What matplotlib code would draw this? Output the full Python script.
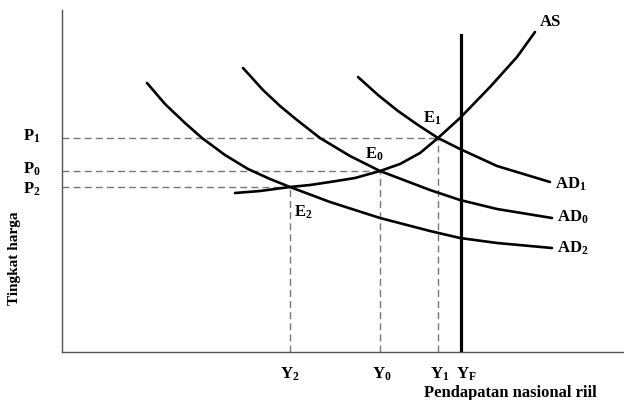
import matplotlib.pyplot as plt

plt.rcParams['font.family'] = 'Liberation Serif'
plt.rcParams['mathtext.fontset'] = 'custom'
plt.rcParams['mathtext.rm'] = 'Liberation Serif'
plt.rcParams['mathtext.bf'] = 'Liberation Serif:bold'
plt.rcParams['mathtext.it'] = 'Liberation Serif:bold'

# income / price levels (arbitrary units)
Y2, Y0, Y1, Yf = 228, 318, 376, 399
P2, P0, P1 = 165, 181, 214

as_x = [173, 198, 228, 248, 268, 293, 318, 338, 358, 376, 398, 428, 455, 473]
as_y = [159, 161, 165, 167, 170, 174, 181, 188, 199, 214, 234, 265, 295, 320]

ad1_x = [296, 316, 336, 356, 376, 398, 435, 488]
ad1_y = [275, 257, 241, 227, 214, 203, 186, 170]

ad0_x = [181, 201, 218, 235, 258, 288, 318, 368, 398, 435, 490]
ad0_y = [284, 262, 246, 232, 214, 196, 181, 162, 152, 143, 134]

ad2_x = [85, 103, 123, 140, 163, 186, 208, 228, 268, 318, 368, 398, 435, 490]
ad2_y = [269, 248, 229, 214, 197, 183, 173, 165, 150, 134, 121, 114, 109, 104]

eq_x = [Y2, Y0, Y1]
eq_p = [P2, P0, P1]
p_names = ['P_2', 'P_0', 'P_1']
y_ticks = [Y2, Y0, Y1, Yf]
y_names = ['Y_2', 'Y_0', 'Y_1', 'Y_F']
yf_top = 317

fig = plt.figure(figsize=(6.24, 4.0), dpi=100)
ax = fig.add_axes([62 / 624, 48 / 400, 562 / 624, 342 / 400])
ax.set_xlim(0, 562)
ax.set_ylim(0, 342)
for s in ['top', 'right']:
    ax.spines[s].set_visible(False)
for s in ['left', 'bottom']:
    ax.spines[s].set_color('#555555')
    ax.spines[s].set_linewidth(1.0)
ax.set_xticks([])
ax.set_yticks([])

dash = dict(color='#777777', lw=1.0, dashes=(5, 3))
for x, p in zip(eq_x, eq_p):
    ax.plot([0, x], [p, p], **dash)
    ax.plot([x, x], [0, p], **dash)

curve = dict(color='black', lw=1.9, solid_joinstyle='round', solid_capstyle='round')
ax.plot(ad2_x, ad2_y, **curve)
ax.plot(ad0_x, ad0_y, **curve)
ax.plot(ad1_x, ad1_y, **curve)
ax.plot(as_x, as_y, **curve)
ax.plot([Yf, Yf], [0, yf_top], color='black', lw=2.3)

lab = dict(fontsize=12, fontweight='bold')
ax.text(as_x[-1] + 5, as_y[-1] + 10, 'AS', ha='left', va='center', **lab)
ax.text(ad1_x[-1] + 5, ad1_y[-1] - 2, r'$\mathbf{AD_1}$', ha='left', va='center', **lab)
ax.text(ad0_x[-1] + 5, ad0_y[-1] + 1, r'$\mathbf{AD_0}$', ha='left', va='center', **lab)
ax.text(ad2_x[-1] + 5, ad2_y[-1] + 0, r'$\mathbf{AD_2}$', ha='left', va='center', **lab)

ax.text(eq_x[2] - 6, eq_p[2] + 20, r'$\mathbf{E_1}$', ha='center', va='center', **lab)
ax.text(eq_x[1] - 6, eq_p[1] + 17, r'$\mathbf{E_0}$', ha='center', va='center', **lab)
ax.text(eq_x[0] + 13, eq_p[0] - 25, r'$\mathbf{E_2}$', ha='center', va='center', **lab)

for p, name, dy in zip(eq_p, p_names, [-2, 2, 2]):
    ax.text(-30, p + dy, r'$\mathbf{%s}$' % name, ha='center', va='center', **lab)

for x, name, dx in zip(y_ticks, y_names, [0, 2, 2, 5]):
    ax.text(x + dx, -22, r'$\mathbf{%s}$' % name, ha='center', va='center', **lab)

ax.text(448, -41, 'Pendapatan nasional riil', ha='center', va='center', **lab)
ax.text(-47, 94, 'Tingkat harga', rotation=90, ha='center', va='center',
        fontsize=11, fontweight='bold')

fig.savefig('out.png', dpi=100)
